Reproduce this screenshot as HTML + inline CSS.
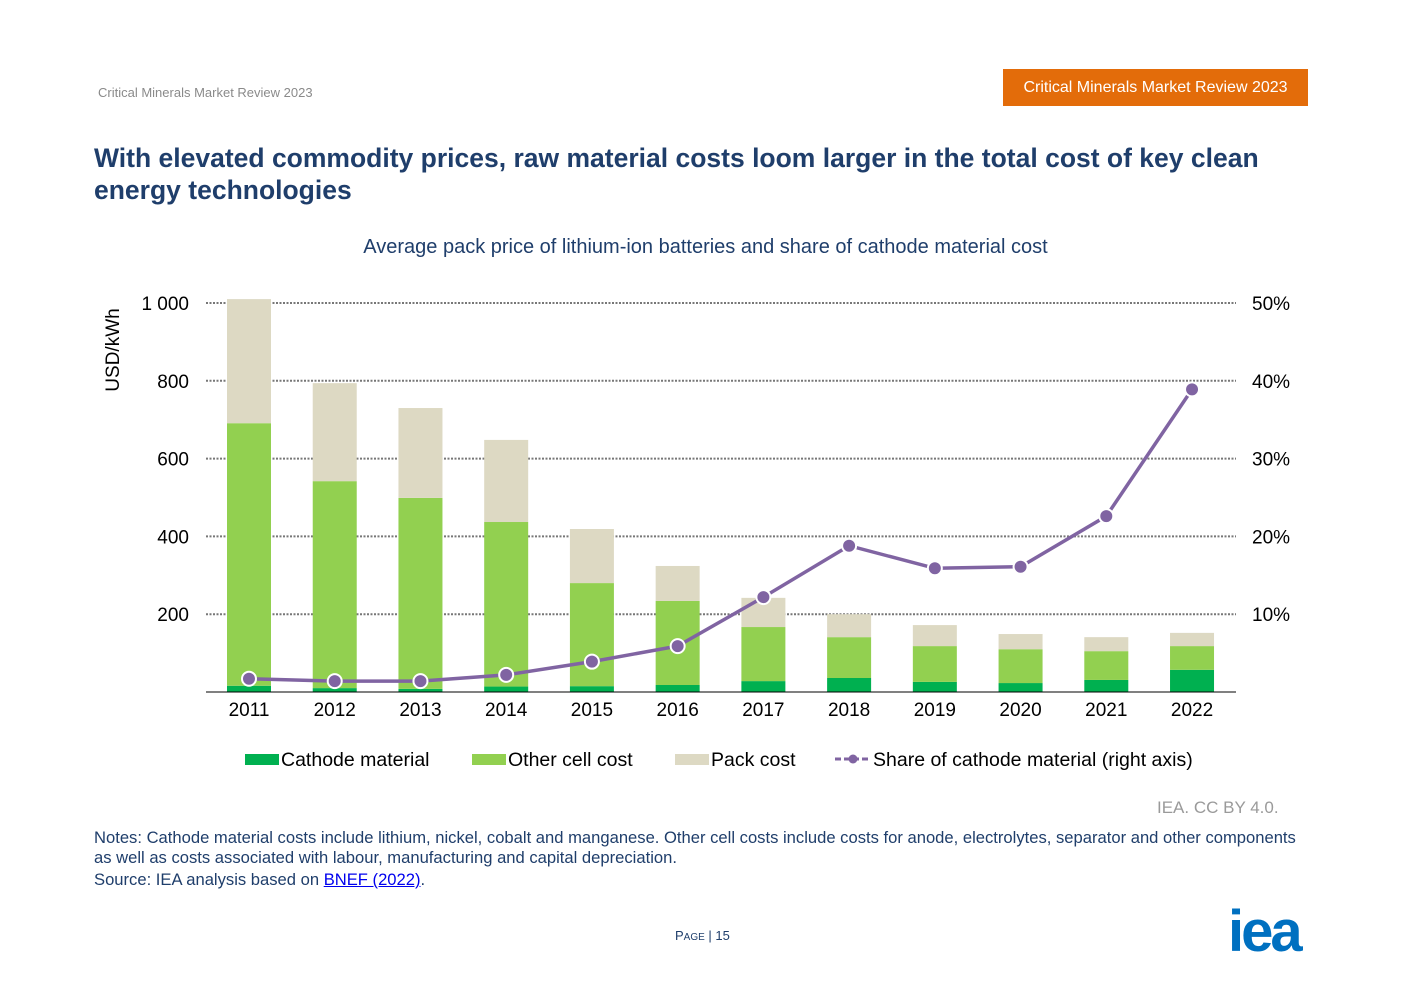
<!DOCTYPE html>
<html><head><meta charset="utf-8"><style>
body{margin:0;width:1403px;height:992px;background:#fff;font-family:"Liberation Sans",sans-serif;position:relative;overflow:hidden}
.a{position:absolute;white-space:nowrap}
</style></head><body>
<div class="a" style="left:98px;top:85px;font-size:13px;color:#8a8a8a">Critical Minerals Market Review 2023</div>
<div class="a" style="left:1003px;top:69px;width:305px;height:37px;background:#e36c0a;color:#fff;font-size:16px;line-height:37px;text-align:center">Critical Minerals Market Review 2023</div>
<div class="a" style="left:94px;top:142px;font-size:26.5px;font-weight:bold;color:#1f3e6b;line-height:32px;white-space:normal;width:1185px">With elevated commodity prices, raw material costs loom larger in the total cost of key clean energy technologies</div>
<div class="a" style="left:0;width:1411px;text-align:center;top:236px;font-size:20px;color:#1f3e6b">Average pack price of lithium-ion batteries and share of cathode material cost</div>
<svg class="a" style="left:0;top:0" width="1403" height="992" id="chart"></svg>
<div class="a" style="left:1157px;top:798px;font-size:17px;color:#9a9a9a">IEA. CC BY 4.0.</div>
<div class="a" style="left:94px;top:828px;font-size:16.6px;color:#1f3e6b;line-height:20px">Notes: Cathode material costs include lithium, nickel, cobalt and manganese. Other cell costs include costs for anode, electrolytes, separator and other components<br>as well as costs associated with labour, manufacturing and capital depreciation.</div>
<div class="a" style="left:94px;top:870px;font-size:16.6px;color:#1f3e6b">Source: IEA analysis based on <span style="color:#0000ee;text-decoration:underline">BNEF (2022)</span>.</div>
<div class="a" style="left:675px;top:928px;font-size:13px;color:#1f3e6b">P<span style="font-size:10px">AGE</span> | 15</div>
<div class="a" style="left:1228px;top:898px;font-size:58px;font-weight:bold;color:#0070c0;letter-spacing:-3px">iea</div>
<script>
const years=["2011","2012","2013","2014","2015","2016","2017","2018","2019","2020","2021","2022"];
const cathode=[16,10,8,14,15,18,28,36,26,23,31,57];
const otherCell=[675,532,491,423,265,216,139,105,92,87,74,61];
const pack=[319,252,231,211,139,90,75,59,54,39,36,34];
const share=[1.7,1.4,1.4,2.2,3.9,5.9,12.2,18.8,15.9,16.1,22.6,38.9];
const leftTicks=[200,400,600,800,1000];
const leftLabels=["200","400","600","800","1 000"];
const rightTicks=[10,20,30,40,50];
const svg=document.getElementById('chart');const NS="http://www.w3.org/2000/svg";
const y0=692,yTop=303,x0=206,x1=1236;
const yL=v=>y0-(v/1000)*(y0-yTop);
const yR=v=>y0-(v/50)*(y0-yTop);
const xC=i=>249+i*85.73;
function mk(t,a,txt){const e=document.createElementNS(NS,t);for(const k in a)e.setAttribute(k,a[k]);if(txt!==undefined)e.textContent=txt;svg.appendChild(e);return e;}
leftTicks.forEach((v,i)=>{
 const g=mk('line',{x1:x0,x2:x1,y1:yL(v),y2:yL(v),stroke:'#777','stroke-width':2,'stroke-dasharray':'2 1.5'});
 
 const t=mk('text',{x:189,y:yL(v)+7,'text-anchor':'end','font-size':19,fill:'#000'},leftLabels[i]);
 
});
rightTicks.forEach(v=>{
 const t=mk('text',{x:1252,y:yR(v)+7,'font-size':19,fill:'#000'},v+'%');
 
});
const yt=mk('text',{x:0,y:0,'font-size':19,transform:'translate(119,350) rotate(-90)','text-anchor':'middle'},'USD/kWh');

const bw=44;
years.forEach((yr,i)=>{
 const segs=[[cathode[i],'#00b050','cathode'],[otherCell[i],'#92d050','other-cell'],[pack[i],'#ddd9c3','pack']];
 let base=0;
 segs.forEach(s=>{const r=mk('rect',{x:xC(i)-bw/2,y:yL(base+s[0]),width:bw,height:yL(base)-yL(base+s[0]),fill:s[1]});
  base+=s[0];});
 const t=mk('text',{x:xC(i),y:716,'text-anchor':'middle','font-size':19},yr);
 
});
const ax=mk('line',{x1:x0,x2:x1,y1:y0,y2:y0,stroke:'#000','stroke-width':1});

const pl=mk('polyline',{points:share.map((v,i)=>xC(i)+','+yR(v)).join(' '),fill:'none',stroke:'#8064a2','stroke-width':3.5});

share.forEach((v,i)=>{const c=mk('circle',{cx:xC(i),cy:yR(v),r:7,fill:'#8064a2',stroke:'#fff','stroke-width':2});
 });
const lg=[[245,'#00b050','Cathode material'],[472,'#92d050','Other cell cost'],[675,'#ddd9c3','Pack cost']];
lg.forEach(l=>{const r=mk('rect',{x:l[0],y:754,width:34,height:11,fill:l[1]});
 
 const t=mk('text',{x:l[0]+36,y:766,'font-size':19.5},l[2]);});
const ll=mk('line',{x1:835,x2:871,y1:759,y2:759,stroke:'#8064a2','stroke-width':3,'stroke-dasharray':'6 3'});

const lc=mk('circle',{cx:853,cy:759,r:4.5,fill:'#8064a2'});
const lt=mk('text',{x:873,y:766,'font-size':19.5},'Share of cathode material (right axis)');

</script>
</body></html>
